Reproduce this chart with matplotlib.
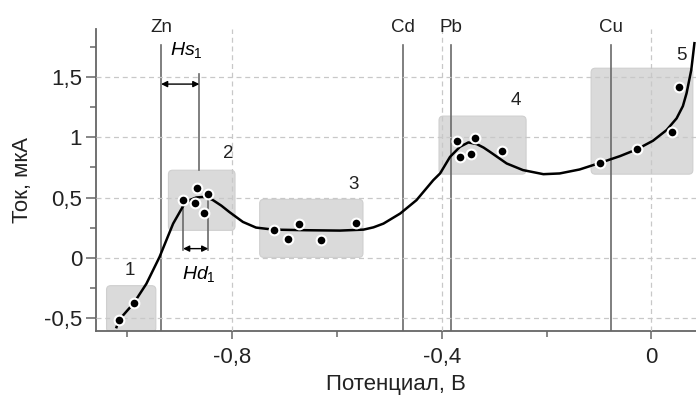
import numpy as np
import matplotlib.pyplot as plt
from matplotlib.patches import FancyBboxPatch
from matplotlib.ticker import FuncFormatter

plt.rcParams['font.family'] = ['Liberation Sans', 'DejaVu Sans']
plt.rcParams['mathtext.fontset'] = 'custom'
plt.rcParams['mathtext.it'] = 'Liberation Sans:italic'
plt.rcParams['mathtext.rm'] = 'Liberation Sans'

# кривая
curve_x = [-1.020, -1.015, -0.987, -0.963, -0.938, -0.912, -0.892, -0.881, -0.868,
           -0.855, -0.845, -0.836, -0.820, -0.805, -0.779, -0.754, -0.721, -0.657,
           -0.594, -0.549, -0.530, -0.511, -0.479, -0.448, -0.416, -0.403, -0.384,
           -0.365, -0.349, -0.333, -0.320, -0.308, -0.276, -0.245, -0.206, -0.175,
           -0.137, -0.098, -0.060, -0.028, 0.003, 0.029, 0.048, 0.060, 0.067,
           0.076, 0.082]
curve_y = [-0.578, -0.517, -0.378, -0.217, 0.005, 0.283, 0.436, 0.478, 0.500,
           0.505, 0.496, 0.478, 0.432, 0.380, 0.297, 0.250, 0.233, 0.228,
           0.225, 0.233, 0.252, 0.283, 0.367, 0.478, 0.644, 0.700, 0.838,
           0.922, 0.958, 0.944, 0.915, 0.880, 0.783, 0.728, 0.694, 0.700,
           0.733, 0.788, 0.844, 0.900, 0.972, 1.061, 1.158, 1.260, 1.367,
           1.561, 1.783]

# экспериментальные точки
pts_x = [-1.015, -0.987, -0.893, -0.867, -0.870, -0.845, -0.854,
         -0.719, -0.693, -0.672, -0.630, -0.564,
         -0.370, -0.337, -0.365, -0.344, -0.285,
         -0.098, -0.028, 0.039, 0.052]
pts_y = [-0.517, -0.378, 0.483, 0.578, 0.455, 0.533, 0.375,
         0.230, 0.158, 0.278, 0.147, 0.286,
         0.972, 0.997, 0.833, 0.861, 0.888,
         0.789, 0.900, 1.044, 1.419]

# области (x0, x1, y0, y1) и подписи
boxes = [(-1.039, -0.945, -0.62, -0.233),
         (-0.921, -0.794, 0.227, 0.727),
         (-0.747, -0.550, 0.002, 0.485),
         (-0.405, -0.239, 0.694, 1.177),
         (-0.115, 0.079, 0.694, 1.575)]
box_labels = ['1', '2', '3', '4', '5']
box_label_xy = [(-0.994, -0.107), (-0.807, 0.866), (-0.568, 0.605),
                (-0.258, 1.31), (0.057, 1.68)]

# потенциалы металлов
metals = ['Zn', 'Cd', 'Pb', 'Cu']
metal_x = [-0.935, -0.474, -0.383, -0.078]

fig, ax = plt.subplots(figsize=(6.96, 3.99), dpi=100)
fig.subplots_adjust(left=0.138, right=1.0, bottom=0.171, top=0.927)

ax.set_xlim(-1.059, 0.085)
ax.set_ylim(-0.608, 1.9)

for (x0, x1, y0, y1) in boxes:
    ax.add_patch(FancyBboxPatch((x0, y0), x1 - x0, y1 - y0,
                                boxstyle='round,pad=0,rounding_size=0.008',
                                mutation_aspect=4.375,
                                fc='#dadada', ec='#cfcfcf', lw=0.8, zorder=0.5))
for lab, (bx, by) in zip(box_labels, box_label_xy):
    ax.text(bx, by, lab, fontsize=13.5, ha='center', va='center', color='#222')

ax.set_xticks([-0.8, -0.4, 0])
ax.set_xticks([-1.0, -0.6, -0.2], minor=True)
ax.set_yticks([-0.5, 0, 0.5, 1, 1.5])
ax.set_yticks([-0.25, 0.25, 0.75, 1.25, 1.75], minor=True)
fmt = FuncFormatter(lambda v, p: ('%g' % v).replace('.', ','))
ax.xaxis.set_major_formatter(fmt)
ax.yaxis.set_major_formatter(fmt)
ax.grid(True, which='major', color='#c8c8c8', lw=0.9, ls=(0, (4, 3)), zorder=1)
ax.set_axisbelow(False)
for gl in ax.get_xgridlines() + ax.get_ygridlines():
    gl.set_zorder(1)

for s in ['top', 'right']:
    ax.spines[s].set_visible(False)
for s in ['left', 'bottom']:
    ax.spines[s].set_color('#666666')
    ax.spines[s].set_linewidth(1.3)
ax.tick_params(which='both', colors='#666666', labelcolor='#222222',
               labelsize=16, width=1.1)
ax.tick_params(axis='y', which='major', length=7, pad=3)
ax.tick_params(axis='x', which='major', length=6, pad=6)
ax.tick_params(which='minor', length=4)

ytop = 1.77
for name, mx in zip(metals, metal_x):
    ax.plot([mx, mx], [-0.608, ytop], color='#6a6a6a', lw=1.2, zorder=2)
    ax.text(mx, 1.91, name, fontsize=13.5, ha='center', va='center', color='#222',
            clip_on=False)

# Hs1
ax.plot([-0.862, -0.862], [0.73, 1.53], color='#6a6a6a', lw=1.2, zorder=2)
ax.annotate('', xy=(-0.935, 1.443), xytext=(-0.862, 1.443),
            arrowprops=dict(arrowstyle='<|-|>', color='black', lw=1.0,
                            mutation_scale=9, shrinkA=0, shrinkB=0), zorder=3)
ax.text(-0.887, 1.73, r'$Hs_{\mathit{1}}$', fontsize=14, ha='center', va='center')

# Hd1
ax.plot([-0.893, -0.893], [0.061, 0.48], color='#6a6a6a', lw=1.2, zorder=2)
ax.plot([-0.845, -0.845], [0.061, 0.53], color='#6a6a6a', lw=1.2, zorder=2)
ax.annotate('', xy=(-0.893, 0.075), xytext=(-0.845, 0.075),
            arrowprops=dict(arrowstyle='<|-|>', color='black', lw=1.0,
                            mutation_scale=9, shrinkA=0, shrinkB=0), zorder=3)
ax.text(-0.862, -0.14, r'$Hd_{\mathit{1}}$', fontsize=14, ha='center', va='center')

ax.plot(curve_x, curve_y, color='black', lw=1.8, zorder=3, solid_joinstyle='round')
ax.plot(pts_x, pts_y, 'o', color='black', ms=7, mec='white', mew=1.5, zorder=4)

ax.set_xlabel('Потенциал, В', fontsize=16, color='#222', labelpad=4)
ax.set_ylabel('Ток, мкА', fontsize=16, color='#222', labelpad=8)

fig.savefig('out.png', dpi=100)
